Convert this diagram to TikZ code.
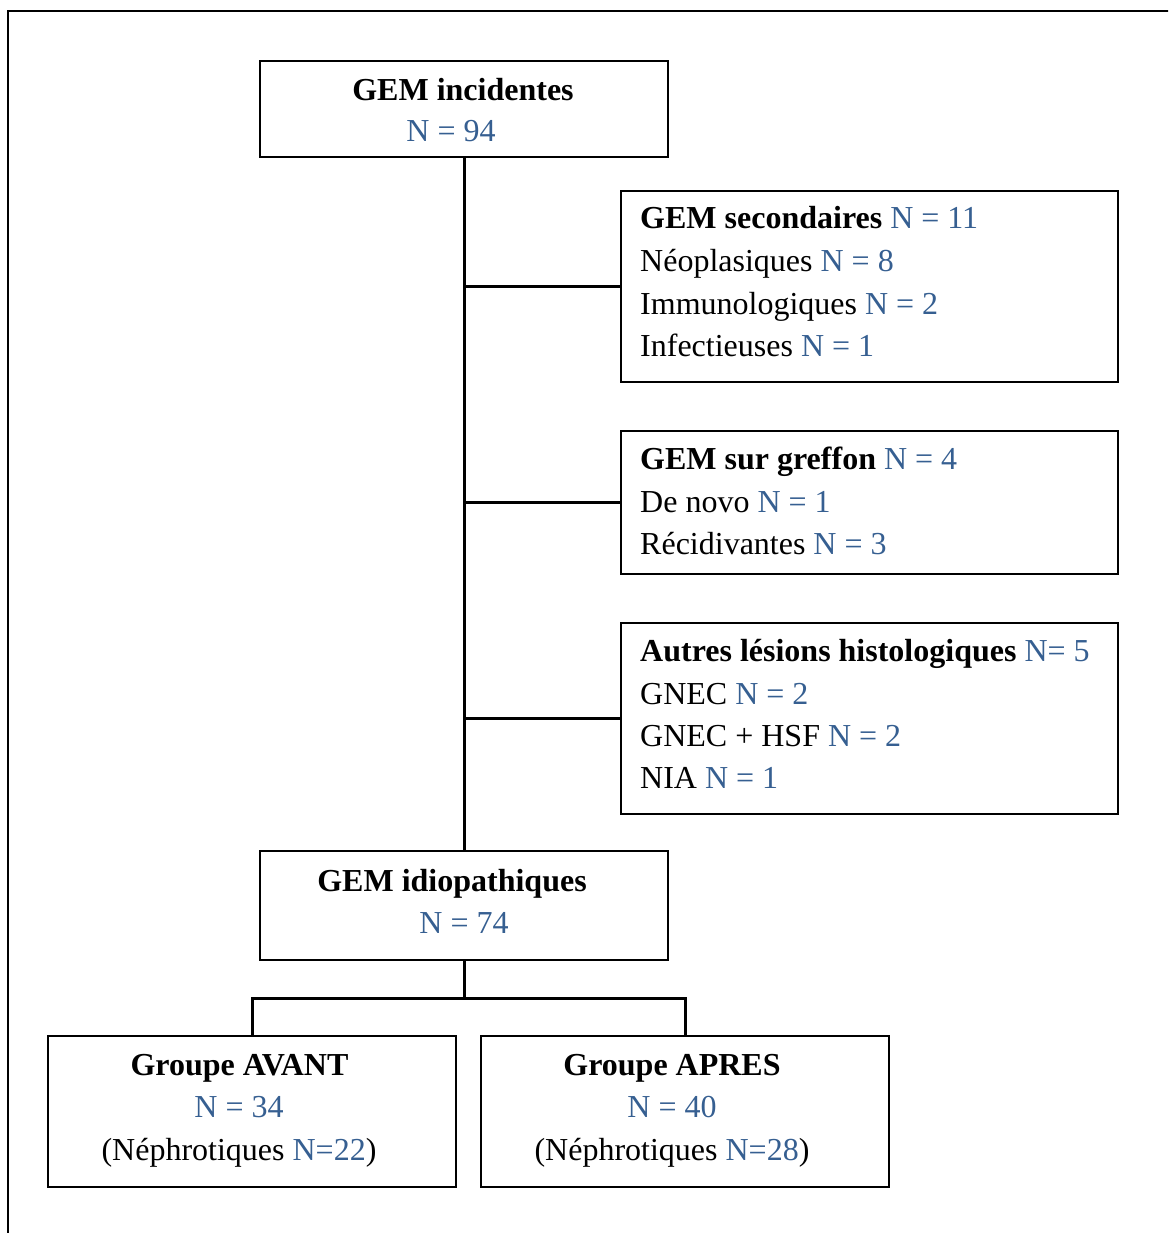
\documentclass[tikz,border=0pt]{standalone}
\usepackage{fontspec}
\setmainfont{Liberation Serif}
\definecolor{nblue}{RGB}{54,95,145}
\begin{document}
\begin{tikzpicture}[x=1pt,y=-1pt,
  box/.style={draw=black,line width=2pt,inner sep=0pt,anchor=north west},
  conn/.style={draw=black,line width=3pt},
  lt/.style={anchor=base west,inner sep=0pt,font=\fontsize{32}{38}\selectfont},
  ct/.style={anchor=base,inner sep=0pt,font=\fontsize{32}{38}\selectfont}]
\useasboundingbox (0,0) rectangle (1168,1233);
\clip (0,0) rectangle (1168,1233);
\draw[line width=2.5pt] (8,1260) -- (8,11) -- (1190,11);
\newcommand{\nb}[1]{\textcolor{nblue}{#1}}
% boxes
\node[box,minimum width=408pt,minimum height=96pt] (b1) at (259,60) {};
\node[box,minimum width=497pt,minimum height=191pt] (b2) at (620,190) {};
\node[box,minimum width=497pt,minimum height=143pt] (b3) at (620,430) {};
\node[box,minimum width=497pt,minimum height=191pt] (b4) at (620,622) {};
\node[box,minimum width=408pt,minimum height=109pt] (b5) at (259,850) {};
\node[box,minimum width=408pt,minimum height=151pt] (b6) at (47,1035) {};
\node[box,minimum width=408pt,minimum height=151pt] (b7) at (480,1035) {};
% texts
\node[ct] (t1a) at (463,101) {\textbf{GEM incidentes}};
\node[ct] (t1b) at (451,142) {\nb{N = 94}};
\node[lt] (t2a) at (640,229) {\textbf{GEM secondaires} \nb{N = 11}};
\node[lt] (t2b) at (640,271) {Néoplasiques \nb{N = 8}};
\node[lt] (t2c) at (640,314) {Immunologiques \nb{N = 2}};
\node[lt] (t2d) at (640,356) {Infectieuses \nb{N = 1}};
\node[lt] (t3a) at (640,469) {\textbf{GEM sur greffon} \nb{N = 4}};
\node[lt] (t3b) at (640,512) {De novo \nb{N = 1}};
\node[lt] (t3c) at (640,554) {Récidivantes \nb{N = 3}};
\node[lt] (t4a) at (640,661) {\textbf{Autres lésions histologiques} \nb{N= 5}};
\node[lt] (t4b) at (640,704) {GNEC \nb{N = 2}};
\node[lt] (t4c) at (640,746) {GNEC + HSF \nb{N = 2}};
\node[lt] (t4d) at (640,788) {NIA \nb{N = 1}};
\node[ct] (t5a) at (452,891) {\textbf{GEM idiopathiques}};
\node[ct] (t5b) at (464,933) {\nb{N = 74}};
\node[ct] (t6a) at (239.5,1075) {\textbf{Groupe AVANT}};
\node[ct] (t6b) at (239,1117) {\nb{N = 34}};
\node[ct] (t6c) at (239,1160) {(Néphrotiques \nb{N=22})};
\node[ct] (t7a) at (672,1075) {\textbf{Groupe APRES}};
\node[ct] (t7b) at (672,1117) {\nb{N = 40}};
\node[ct] (t7c) at (672,1160) {(Néphrotiques \nb{N=28})};
% connectors
\draw[conn] (b1.south) -- (b5.north);
\draw[conn] (b2.west) -- (b2.west -| b1.south);
\draw[conn] (b3.west) -- (b3.west -| b1.south);
\draw[conn] (b4.west) -- (b4.west -| b1.south);
\path (b5.south) ++(0,37) coordinate (j);
\draw[conn] (b5.south) -- (j);
\draw[conn] (b6.north) |- (j) -| (b7.north);
\end{tikzpicture}
\end{document}
